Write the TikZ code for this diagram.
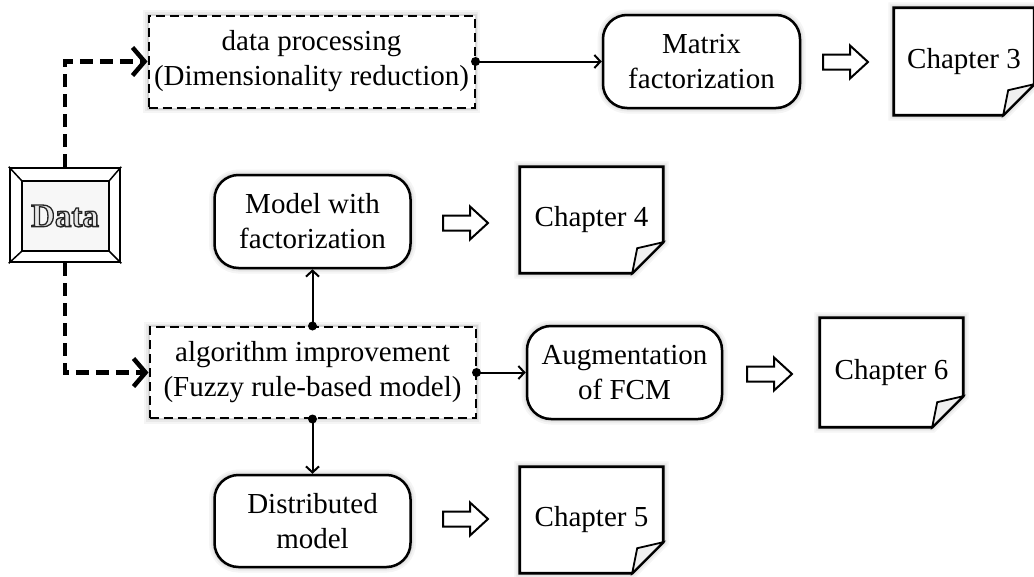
\documentclass[tikz,border=0pt]{standalone}
\usepackage{fontspec}
\setmainfont{Liberation Serif}
\usetikzlibrary{arrows.meta}
\pgfdeclarelayer{bg}
\pgfsetlayers{bg,main}
\tikzset{
  txt/.style={font=\fontsize{29}{35}\selectfont, align=center, inner sep=0pt},
  halo/.style={preaction={draw=black, solid, line width=11pt, draw opacity=0.04},
               preaction={draw=black, solid, line width=7pt, draw opacity=0.05},
               preaction={draw=black, solid, line width=4pt, draw opacity=0.08}},
  dashbox/.style={txt, draw, fill=white, halo, line width=2pt, dash pattern=on 9pt off 5pt,
                  minimum width=326pt, minimum height=92pt},
  rbox/.style={txt, draw, fill=white, halo, line width=2.5pt, rounded corners=24pt,
               minimum width=196pt, minimum height=93pt},
  doc/.style={txt, minimum width=143pt, minimum height=106pt},
  docline/.style={draw, fill=white, halo, line width=2.8pt, line join=miter},
  flap/.style={draw, fill=gray!12, line width=1.8pt, line join=miter},
  conn/.style={line width=2pt, -{Straight Barb[length=6pt,width=13pt,line width=2pt]}},
  dasharrow/.style={line width=4.5pt, dash pattern=on 13pt off 7pt,
                    -{Straight Barb[length=12pt,width=28pt,line width=4.5pt]}},
  pics/barrow/.style={code={\draw[line width=2pt, fill=white, line join=miter]
      (0,-7.5) -- (27,-7.5) -- (27,-16.5) -- (45,0) -- (27,16.5) -- (27,7.5) -- (0,7.5) -- cycle;}}
}
\newcommand\docshape[1]{%
  \path[docline] (#1.north west) -- (#1.north east) -- ([yshift=31pt]#1.south east)
     -- ([xshift=-31pt]#1.south east) -- (#1.south west) -- cycle;
  \path[flap] ([xshift=-31pt]#1.south east) -- ([xshift=-26pt,yshift=25pt]#1.south east)
     -- ([yshift=31pt]#1.south east) -- cycle;}
\newcommand\outlinetext[1]{\textcolor{gray!18}{\special{pdf:literal direct 2 Tr 1.3 w 0.15 G}#1\special{pdf:literal direct 0 Tr}}}
\begin{document}
\begin{tikzpicture}[x=1pt,y=-1pt]
\useasboundingbox (0,0) rectangle (1034,576);

% Data box
\node[draw, fill=white, line width=2.5pt, minimum width=110pt, minimum height=94pt, inner sep=0pt] (data) at (65,215) {};
\draw[line width=2pt, fill=gray!6] ([shift={(13pt,-14pt)}]data.north west) rectangle ([shift={(-12pt,12pt)}]data.south east);
\draw[line width=1.5pt] (data.north west) -- ([shift={(13pt,-14pt)}]data.north west)
      (data.north east) -- ([shift={(-12pt,-14pt)}]data.north east)
      (data.south west) -- ([shift={(13pt,12pt)}]data.south west)
      (data.south east) -- ([shift={(-12pt,12pt)}]data.south east);
\node[font=\fontsize{33}{33}\selectfont\bfseries, inner sep=0pt] (datatext) at (65,216) {\outlinetext{Data}};

% Row 1
\node[dashbox] (dp) at (311.5,61.5) {data processing\\(Dimensionality reduction)};
\node[rbox, minimum width=197pt] (mf) at (701.5,61.5) {Matrix\\factorization};
\pic at (823,62) {barrow};
\node[doc, minimum width=140pt, minimum height=107pt] (c3) at (964,61.5) {Chapter 3};

% Row 2
\node[rbox] (mwf) at (312.5,221.5) {Model with\\factorization};
\pic at (443,223) {barrow};
\node[doc] (c4) at (591.5,220) {Chapter 4};

% Row 3
\node[dashbox, minimum height=91pt] (alg) at (312.5,372.5) {algorithm improvement\\(Fuzzy rule-based model)};
\node[rbox, minimum width=195pt] (aug) at (624.5,372.5) {Augmentation\\of FCM};
\pic at (747,374) {barrow};
\node[doc, minimum height=109pt] (c6) at (891.5,372.5) {Chapter 6};

% Row 4
\node[rbox, minimum height=92pt] (dist) at (312.5,521) {Distributed\\model};
\pic at (443,519) {barrow};
\node[doc] (c5) at (591.5,520) {Chapter 5};

\begin{pgfonlayer}{bg}
  \docshape{c3}
  \docshape{c4}
  \docshape{c6}
  \docshape{c5}
\end{pgfonlayer}

% connectors
\draw[dasharrow] (data.north) |- (dp.west);
\draw[dasharrow] (data.south) |- (alg.west);

\draw[conn] (dp.east) -- (mf.west);
\fill (dp.east) circle (4.5pt);
\draw[conn] (alg.north) -- (mwf.south);
\fill (alg.north) circle (4.5pt);
\draw[conn] (alg.east) -- (aug.west);
\fill (alg.east) circle (4.5pt);
\draw[conn] (alg.south) -- (dist.north);
\fill (alg.south) circle (4.5pt);
\end{tikzpicture}
\end{document}
